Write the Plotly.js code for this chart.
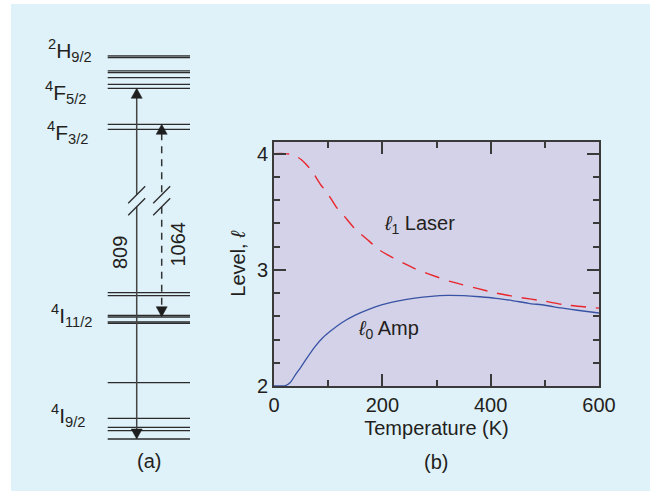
<!DOCTYPE html>
<html><head><meta charset="utf-8">
<script src="https://cdn.plot.ly/plotly-3.0.1.min.js"></script>
<style>html,body{margin:0;padding:0;background:#fff}</style>
</head><body><div id="chart" style="width:655px;height:495px"></div>
<script>
// ---------- panel (b) data ----------
const laserTemp  = [0, 20, 30, 40, 50, 60, 70, 85, 100, 115, 130, 150, 170, 195, 215, 240, 260, 285, 325, 375, 410, 450, 500, 535, 600];
const laserLevel = [4.0, 4.0, 3.995, 3.98, 3.95, 3.905, 3.85, 3.74, 3.65, 3.54, 3.46, 3.35, 3.27, 3.17, 3.115, 3.055, 3.01, 2.965, 2.90, 2.84, 2.80, 2.765, 2.73, 2.70, 2.67];
const ampTemp  = [0, 10, 20, 30, 40, 50, 60, 75, 90, 105, 125, 150, 175, 200, 230, 260, 290, 320, 350, 380, 410, 440, 470, 500, 530, 560, 600];
const ampLevel = [2.0, 2.0, 2.002, 2.03, 2.10, 2.165, 2.235, 2.335, 2.415, 2.475, 2.545, 2.61, 2.66, 2.70, 2.732, 2.756, 2.772, 2.78, 2.777, 2.768, 2.755, 2.735, 2.712, 2.695, 2.672, 2.652, 2.628];
const xTickVals = [0, 200, 400, 600];
const yTickVals = [2, 3, 4];

// ---------- panel (a) data (diagram units) ----------
const levelY = [55.9, 57.5, 70.8, 72.6, 77.6, 84.3, 88.3, 124.3, 129.3,
                292.7, 295.7, 315.3, 317.0, 322.0, 323.4,
                382.7, 418.3, 427.3, 430.7, 439.0];
const levelSpan = [107.7, 190];
const termLabels = ['<sup>2</sup>H<sub>9/2</sub>', '<sup>4</sup>F<sub>5/2</sub>', '<sup>4</sup>F<sub>3/2</sub>', '<sup>4</sup>I<sub>11/2</sub>', '<sup>4</sup>I<sub>9/2</sub>'];
const termLabelX = [46, 43, 45, 49, 49];
const termLabelY = [50, 92, 132, 315, 415];
const transitionNames = ['809', '1064'];
const transitionX = [136.7, 161.7];
const transitionUpper = [88.3, 124.3];
const transitionLower = [439.0, 316.7];
const breakY = [194.7, 206.7];

// ---------- build traces ----------
const ink = '#2b2b2b';
const traces = [];
traces.push({x: laserTemp, y: laserLevel, mode: 'lines', line: {color: '#e8252b', width: 1.4, dash: '15px,10px', shape: 'spline', smoothing: 0.6}, hoverinfo: 'skip', xaxis: 'x', yaxis: 'y'});
traces.push({x: ampTemp, y: ampLevel, mode: 'lines', line: {color: '#3853a4', width: 1.3, shape: 'spline', smoothing: 0.7}, hoverinfo: 'skip', xaxis: 'x', yaxis: 'y'});

// level lines
const lx = [], ly = [];
levelY.forEach(v => { lx.push(levelSpan[0], levelSpan[1], null); ly.push(v, v, null); });
traces.push({x: lx, y: ly, mode: 'lines', line: {color: ink, width: 1.3}, hoverinfo: 'skip', xaxis: 'x2', yaxis: 'y2'});

const headH = 10, headW = 5.5, slash = 8.5;
transitionNames.forEach((name, i) => {
  const x = transitionX[i], up = transitionUpper[i], lo = transitionLower[i];
  const dash = i === 0 ? 'solid' : '7px,6px';
  const col = i === 0 ? '#444' : '#333';
  // shaft (broken)
  traces.push({x: [x, x, null, x, x], y: [up + headH - 1, breakY[0], null, breakY[1], lo - headH + 1], mode: 'lines', line: {color: col, width: 1.5, dash: dash}, hoverinfo: 'skip', xaxis: 'x2', yaxis: 'y2'});
  // break slashes
  traces.push({x: [x - slash, x + slash, null, x - slash, x + slash], y: [breakY[0] + slash, breakY[0] - slash, null, breakY[1] + slash, breakY[1] - slash], mode: 'lines', line: {color: ink, width: 1.3}, hoverinfo: 'skip', xaxis: 'x2', yaxis: 'y2'});
  // arrow heads
  traces.push({x: [x, x - headW, x + headW, x], y: [up, up + headH, up + headH, up], mode: 'lines', fill: 'toself', fillcolor: '#1e1e1e', line: {color: '#1e1e1e', width: 0.5}, hoverinfo: 'skip', xaxis: 'x2', yaxis: 'y2'});
  traces.push({x: [x, x - headW, x + headW, x], y: [lo, lo - headH, lo - headH, lo], mode: 'lines', fill: 'toself', fillcolor: '#1e1e1e', line: {color: '#1e1e1e', width: 0.5}, hoverinfo: 'skip', xaxis: 'x2', yaxis: 'y2'});
});

// ---------- annotations ----------
const txt = '#231f20';
const ann = [];
termLabels.forEach((t, i) => ann.push({text: t, x: termLabelX[i], y: termLabelY[i], xref: 'x2', yref: 'y2', xanchor: 'left', yanchor: 'middle', showarrow: false, font: {size: 21, color: txt}}));
ann.push({text: transitionNames[0], x: 119.5, y: 252.5, textangle: -90, xref: 'x2', yref: 'y2', showarrow: false, font: {size: 20, color: txt}});
ann.push({text: transitionNames[1], x: 177.5, y: 244, textangle: -90, xref: 'x2', yref: 'y2', showarrow: false, font: {size: 20, color: txt}});
ann.push({text: '(a)', x: 149, y: 461, xref: 'x2', yref: 'y2', showarrow: false, font: {size: 20, color: txt}});
ann.push({text: '(b)', x: 436, y: 462, xref: 'x2', yref: 'y2', showarrow: false, font: {size: 20, color: txt}});
ann.push({text: '<i>ℓ</i><sub>1</sub> Laser', x: 382, y: 224, xref: 'x2', yref: 'y2', xanchor: 'left', yanchor: 'middle', showarrow: false, font: {size: 20, color: txt}});
ann.push({text: '<i>ℓ</i><sub>0</sub> Amp', x: 356, y: 329, xref: 'x2', yref: 'y2', xanchor: 'left', yanchor: 'middle', showarrow: false, font: {size: 20, color: txt}});

const frame = '#3a3a3a';
const axisCommon = {ticks: 'inside', ticklen: 12, tickwidth: 2, tickcolor: frame, showline: true, linecolor: frame, linewidth: 2, mirror: 'ticks', showgrid: false, zeroline: false, tickfont: {size: 20, color: txt}};

const layout = {
  width: 655, height: 495, margin: {l: 0, r: 0, t: 0, b: 0, pad: 0},
  paper_bgcolor: '#ffffff', plot_bgcolor: 'rgba(0,0,0,0)', showlegend: false,
  font: {family: 'Liberation Sans, Arial, Helvetica, sans-serif', color: txt, size: 20},
  xaxis: Object.assign({}, axisCommon, {domain: [274/655, 599/655], range: [0, 600], tickvals: xTickVals, anchor: 'y',
    minor: {tick0: 0, dtick: 100, ticks: 'inside', ticklen: 6, tickwidth: 2, tickcolor: frame, showgrid: false},
    title: {text: 'Temperature (K)', standoff: 6, font: {size: 20, color: txt}}}),
  yaxis: Object.assign({}, axisCommon, {domain: [1 - 386/495, 1 - 142/495], range: [2, 4.1], tickvals: yTickVals, anchor: 'x',
    minor: {tick0: 2, dtick: 0.2, ticks: 'inside', ticklen: 6, tickwidth: 2, tickcolor: frame, showgrid: false},
    title: {text: 'Level, <i>ℓ</i>', standoff: 6, font: {size: 20, color: txt}}}),
  xaxis2: {domain: [0, 1], range: [0, 655], visible: false, anchor: 'y2', fixedrange: true},
  yaxis2: {domain: [0, 1], range: [495, 0], visible: false, anchor: 'x2', fixedrange: true},
  shapes: [
    {type: 'rect', xref: 'paper', yref: 'paper', x0: 11/655, x1: 650/655, y0: 1 - 491/495, y1: 1 - 4/495, fillcolor: '#dff2fa', line: {width: 0}, layer: 'below'},
    {type: 'rect', xref: 'x domain', yref: 'y domain', x0: 0, x1: 1, y0: 0, y1: 1, fillcolor: '#d4d2e8', line: {width: 0}, layer: 'below'}
  ],
  annotations: ann
};

Plotly.newPlot('chart', traces, layout, {staticPlot: true, displayModeBar: false});
</script></body></html>
